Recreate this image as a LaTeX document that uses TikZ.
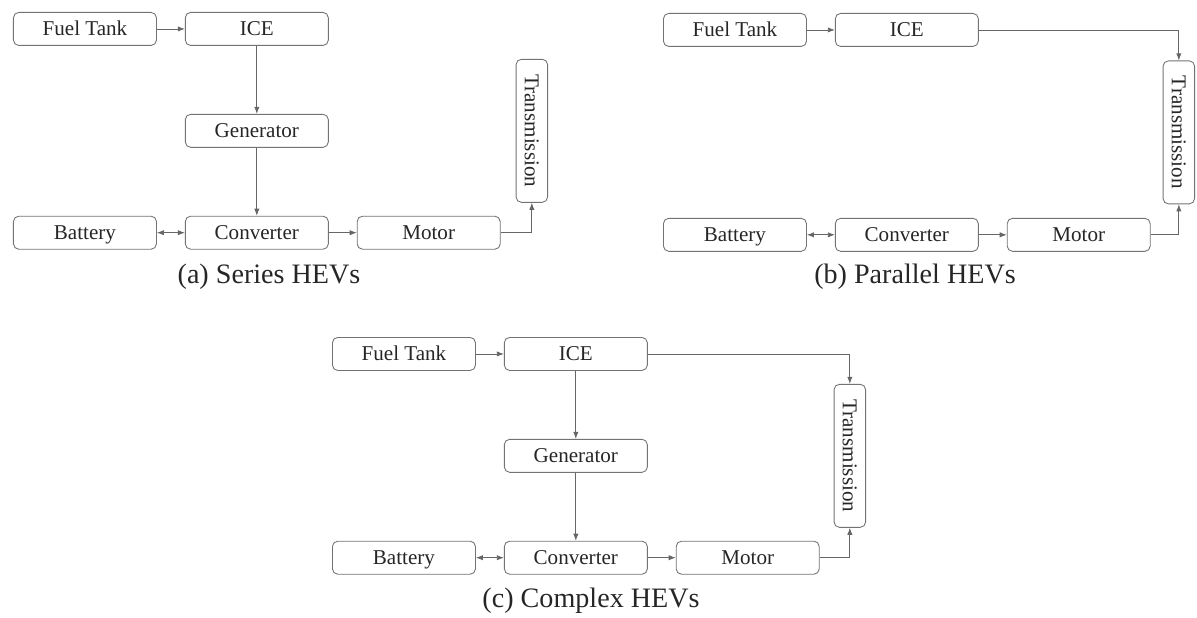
\documentclass[tikz,border=0pt]{standalone}
\usepackage{fontspec}
\setmainfont{Liberation Serif}
\usetikzlibrary{positioning,arrows.meta,calc}

\begin{document}
\begin{tikzpicture}[
  node distance=1.36cm and 0.56cm,
  blk/.style={draw=black!55, rounded corners=3pt, align=center, font=\fontsize{12}{14}\selectfont, text=black!85, minimum width=2.86cm, minimum height=0.66cm, text height=9pt, text depth=1pt, inner sep=2pt, line width=0.5pt},
  trans/.style={blk, rotate=-90, minimum width=2.86cm, minimum height=0.63cm, anchor=south},
  subcap/.style={font=\fontsize{16}{19}\selectfont, text=black!85},
  arr/.style={-{Latex[length=4pt,width=3pt]}, draw=black!60, line width=0.45pt},
  darr/.style={{Latex[length=4pt,width=3pt]}-{Latex[length=4pt,width=3pt]}, draw=black!60, line width=0.45pt}
]
\useasboundingbox (0,0) rectangle (23.94,-12.36);

% (a) series
\node[blk, anchor=north west] (TankA) at (0.26,-0.24) {Fuel Tank};
\node[blk, right=of TankA] (IceA) {ICE};
\node[blk, below=of IceA] (GenA) {Generator};
\node[blk, below=of GenA] (ConvA) {Converter};
\node[blk, left=of ConvA] (BattA) {Battery};
\node[blk, right=of ConvA] (MotorA) {Motor};
\node[trans] (TransA) at ($(MotorA.east |- GenA)+(0.3,0)$) {Transmission};
\node[subcap] (CapA) at (5.38,-5.54) {(a) Series HEVs};

\draw[arr] (TankA) -- (IceA);
\draw[arr] (IceA) -- (GenA);
\draw[arr] (GenA) -- (ConvA);
\draw[darr] (BattA) -- (ConvA);
\draw[arr] (ConvA) -- (MotorA);
\draw[arr] (MotorA) -| (TransA);

% (b) parallel
\node[blk, anchor=north west] (TankB) at (13.26,-0.26) {Fuel Tank};
\node[blk, right=of TankB] (IceB) {ICE};
\node[blk, below=3.42cm of TankB] (BattB) {Battery};
\node[blk, right=of BattB] (ConvB) {Converter};
\node[blk, right=of ConvB] (MotorB) {Motor};
\node[trans] (TransB) at ($(MotorB.east)!.5!(MotorB.east |- IceB)+(0.24,0)$) {Transmission};
\node[subcap] (CapB) at (18.3,-5.54) {(b) Parallel HEVs};

\draw[arr] (TankB) -- (IceB);
\draw[arr] (IceB) -| (TransB);
\draw[darr] (BattB) -- (ConvB);
\draw[arr] (ConvB) -- (MotorB);
\draw[arr] (MotorB) -| (TransB);

% (c) complex
\node[blk, anchor=north west] (TankC) at (6.64,-6.74) {Fuel Tank};
\node[blk, right=of TankC] (IceC) {ICE};
\node[blk, below=of IceC] (GenC) {Generator};
\node[blk, below=of GenC] (ConvC) {Converter};
\node[blk, left=of ConvC] (BattC) {Battery};
\node[blk, right=of ConvC] (MotorC) {Motor};
\node[trans] (TransC) at ($(MotorC.east |- GenC)+(0.28,0)$) {Transmission};
\node[subcap] (CapC) at (11.82,-12.02) {(c) Complex HEVs};

\draw[arr] (TankC) -- (IceC);
\draw[arr] (IceC) -- (GenC);
\draw[arr] (GenC) -- (ConvC);
\draw[darr] (BattC) -- (ConvC);
\draw[arr] (ConvC) -- (MotorC);
\draw[arr] (IceC) -| (TransC);
\draw[arr] (MotorC) -| (TransC);
\end{tikzpicture}
\end{document}
